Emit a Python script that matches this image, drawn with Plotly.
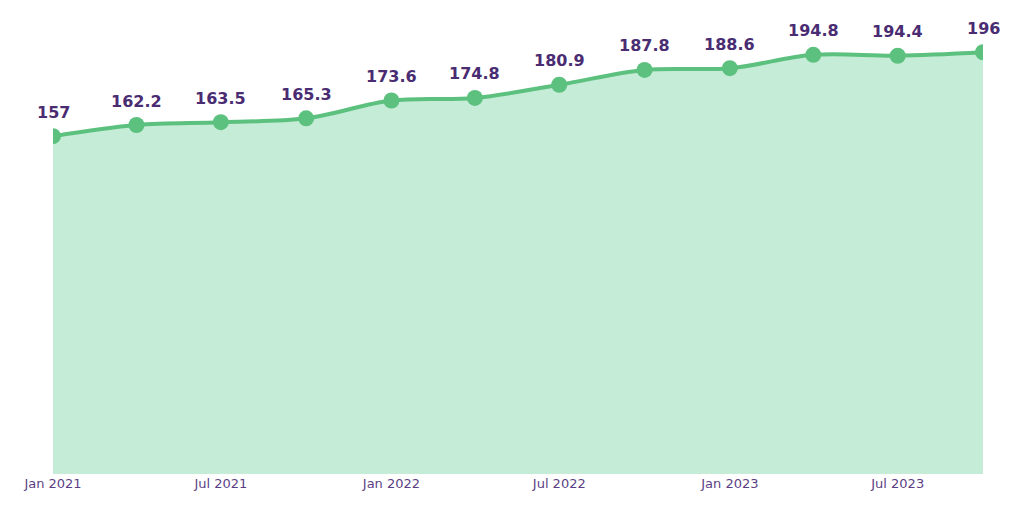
import plotly.graph_objects as go

# quarterly values
dates = ["2021-01-01", "2021-04-01", "2021-07-01", "2021-10-01",
         "2022-01-01", "2022-04-01", "2022-07-01", "2022-10-01",
         "2023-01-01", "2023-04-01", "2023-07-01", "2023-10-01"]
values = [157, 162.2, 163.5, 165.3, 173.6, 174.8, 180.9, 187.8, 188.6, 194.8, 194.4, 196]
labels = ["157", "162.2", "163.5", "165.3", "173.6", "174.8",
          "180.9", "187.8", "188.6", "194.8", "194.4", "196"]

green = "#5cc17e"
purple = "#4a2c72"

fig = go.Figure()

fig.add_trace(go.Scatter(
    x=dates, y=values, mode="lines+markers",
    line=dict(color=green, width=4, shape="spline", smoothing=1),
    marker=dict(color=green, size=16),
    fill="tozeroy", fillcolor="#c5ecd7",
    cliponaxis=True, hoverinfo="x+y", showlegend=False,
))

# value labels above points (not clipped at the edges)
for d, v, t in zip(dates, values, labels):
    fig.add_annotation(
        x=d, y=v, text=t, showarrow=False, yshift=24,
        font=dict(family="DejaVu Sans", size=16, color=purple, weight="bold"),
    )

fig.update_layout(
    width=1024, height=514,
    margin=dict(l=45, r=49, t=12, b=48),
    paper_bgcolor="white", plot_bgcolor="white",
    font=dict(family="DejaVu Sans"),
)
fig.update_xaxes(
    range=["2021-01-01", "2023-10-01"], showgrid=False, zeroline=False,
    dtick="M6", tick0="2021-01-01", tickformat="%b %Y",
    tickfont=dict(size=13, color="#5b3f86"), showline=False,
)
fig.update_yaxes(range=[0, 211], visible=False)

fig.write_html("out.html")
